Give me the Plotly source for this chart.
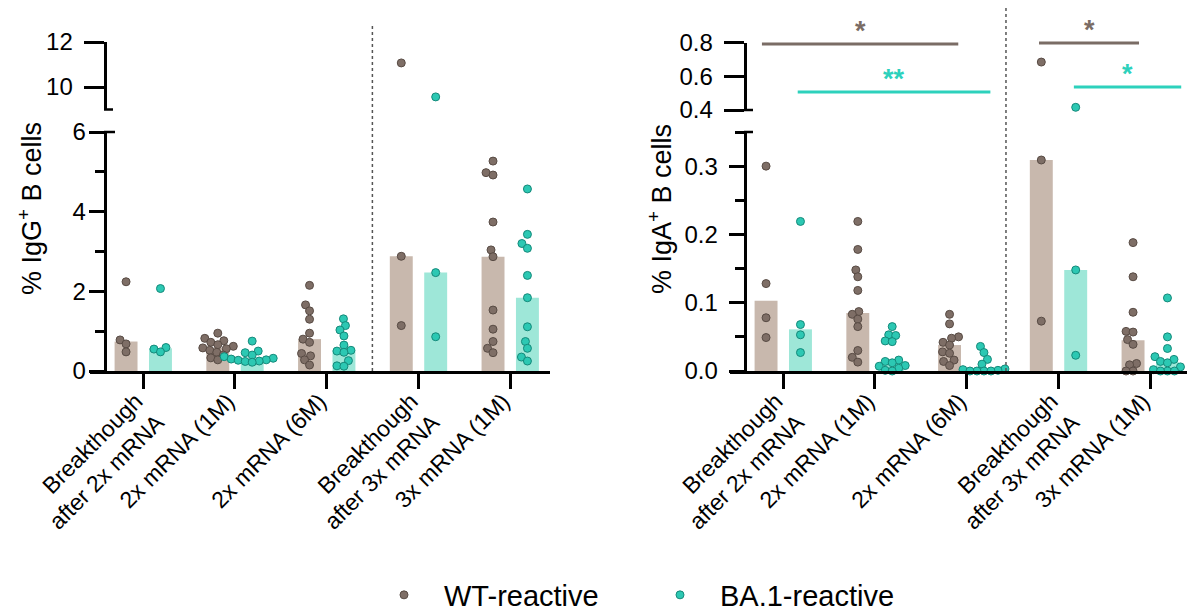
import plotly.graph_objects as go

W, H = 1187, 611
FONT = "Arial, Liberation Sans, sans-serif"

# ---------------- data ----------------
categories = ["Breakthough<br>after 2x mRNA", "2x mRNA (1M)", "2x mRNA (6M)",
              "Breakthough<br>after 3x mRNA", "3x mRNA (1M)"]
series_names = ["WT-reactive", "BA.1-reactive"]

igg_wt = [
    [2.24, 0.78, 0.68, 0.48],
    [0.95, 0.82, 0.76, 0.72, 0.66, 0.62, 0.58, 0.56, 0.52, 0.47, 0.40, 0.33, 0.28],
    [2.15, 1.66, 1.51, 1.30, 0.95, 0.80, 0.72, 0.44, 0.38, 0.28, 0.15],
    [11.07, 2.88, 1.14],
    [5.27, 4.98, 4.92, 3.74, 3.04, 2.87, 1.53, 1.05, 0.74, 0.57, 0.46],
]
igg_ba1 = [
    [2.07, 0.59, 0.55, 0.48],
    [0.75, 0.50, 0.46, 0.40, 0.36, 0.32, 0.30, 0.28, 0.27, 0.25, 0.24, 0.22],
    [1.31, 1.14, 1.03, 0.88, 0.65, 0.52, 0.50, 0.47, 0.26, 0.13, 0.12],
    [9.56, 2.47, 0.86],
    [4.57, 3.43, 3.20, 3.08, 2.40, 1.84, 1.11, 0.74, 0.57, 0.35, 0.25],
]
iga_wt = [
    [0.30, 0.128, 0.078, 0.049],
    [0.219, 0.178, 0.148, 0.138, 0.118, 0.087, 0.083, 0.076, 0.065, 0.030, 0.020, 0.013],
    [0.083, 0.069, 0.050, 0.048, 0.042, 0.038, 0.028, 0.026, 0.016, 0.014, 0.008],
    [0.685, 0.309, 0.073],
    [0.188, 0.138, 0.086, 0.058, 0.057, 0.046, 0.039, 0.011, 0.009, 0.0, 0.0],
]
iga_ba1 = [
    [0.219, 0.068, 0.053, 0.027],
    [0.065, 0.053, 0.052, 0.044, 0.043, 0.016, 0.014, 0.012, 0.008, 0.007, 0.004, 0.001, 0.0],
    [0.036, 0.027, 0.017, 0.010, 0.003, 0.002, 0.001, 0.0, 0.0, 0.0, 0.0],
    [0.416, 0.148, 0.023],
    [0.107, 0.050, 0.033, 0.021, 0.017, 0.014, 0.012, 0.006, 0.002, 0.0, 0.0, 0.0],
]

# bar heights (medians)
igg_wt_bar = [0.74, 0.58, 0.80, 2.88, 2.87]
igg_ba1_bar = [0.57, 0.30, 0.52, 2.47, 1.84]
iga_wt_bar = [0.103, 0.085, 0.038, 0.309, 0.045]
iga_ba1_bar = [0.061, 0.014, 0.003, 0.148, 0.013]

# significance bars on IgA panel
sig_x0 = [-0.23, 0.16, 2.79, 3.17]
sig_x1 = [1.91, 2.26, 3.88, 4.34]
sig_y = [0.792, 0.507, 0.798, 0.536]
sig_text = ["*", "**", "*", "*"]
sig_series = [0, 1, 0, 1]

# ---------------- style ----------------
dot_fill = ["#7e6e66", "#2cc8b3"]
dot_line = ["#584b44", "#15897a"]
bar_fill = ["#c8b8ad", "#9ee7d8"]
sig_col = ["#7a6c65", "#2dd1bc"]
group_off = [-0.185, 0.19]
PX_PER_CAT = 91.75


def swarm(values, px_per_unit, diam=7.0, step=0.5):
    placed = []
    offs = [0.0] * len(values)
    for i in sorted(range(len(values)), key=lambda k: values[k]):
        y = values[i] * px_per_unit
        k = 0
        found = None
        while found is None:
            cands = [0.0] if k == 0 else [-k * step, k * step]
            for xc in cands:
                if all((xc - px) ** 2 + (y - py) ** 2 >= diam ** 2 for px, py in placed):
                    found = xc
                    break
            k += 1
        placed.append((found, y))
        offs[i] = found
    return offs


fig = go.Figure()

panels = [
    dict(x="x", lo="y", hi="y2", data=[igg_wt, igg_ba1], bars=[igg_wt_bar, igg_ba1_bar], scale=39.8),
    dict(x="x2", lo="y3", hi="y4", data=[iga_wt, iga_ba1], bars=[iga_wt_bar, iga_ba1_bar], scale=680.0),
]

for p, pan in enumerate(panels):
    for s in range(2):
        fig.add_trace(go.Bar(
            x=[i + group_off[s] for i in range(len(categories))], y=pan["bars"][s],
            width=0.25, marker=dict(color=bar_fill[s], line=dict(width=0)),
            xaxis=pan["x"], yaxis=pan["lo"], showlegend=False, hoverinfo="skip"))
    for s in range(2):
        xs, ys = [], []
        for i, vals in enumerate(pan["data"][s]):
            offs = swarm(vals, pan["scale"])
            xs += [i + group_off[s] + o / PX_PER_CAT for o in offs]
            ys += vals
        for ax_y in (pan["lo"], pan["hi"]):
            fig.add_trace(go.Scatter(
                x=xs, y=ys, mode="markers", cliponaxis=False,
                marker=dict(size=8, color=dot_fill[s], line=dict(color=dot_line[s], width=1)),
                xaxis=pan["x"], yaxis=ax_y, name=series_names[s],
                showlegend=(p == 0 and ax_y == pan["lo"]), hoverinfo="skip"))

# significance lines
for k in range(len(sig_x0)):
    fig.add_trace(go.Scatter(
        x=[sig_x0[k], sig_x1[k]], y=[sig_y[k], sig_y[k]], mode="lines",
        line=dict(color=sig_col[sig_series[k]], width=3),
        xaxis="x2", yaxis="y5", showlegend=False, hoverinfo="skip"))
    fig.add_annotation(
        x=(sig_x0[k] + sig_x1[k]) / 2, y=sig_y[k], xref="x2", yref="y5",
        text="<b>" + sig_text[k] + "</b>", showarrow=False, yanchor="bottom", yshift=-4,
        font=dict(family=FONT, size=27, color=sig_col[sig_series[k]]))

axis_common = dict(showline=True, linewidth=2.5, linecolor="black", showgrid=False,
                   zeroline=False, ticks="outside", tickwidth=2.5, tickcolor="black",
                   automargin=False)
ytickfont = dict(family=FONT, size=24, color="black")
xtickfont = dict(family=FONT, size=23, color="black")
NBSP = "\u00a0"

ybot = 1 - 371 / H
ytop_lo = 1 - 132 / H

xcommon = dict(tickmode="array", tickvals=list(range(5)), ticktext=categories,
               tickangle=-45, ticklen=15, tickfont=xtickfont,
               ticklabelstandoff=-10, ticklabelshift=-7, **axis_common)

fig.update_layout(
    width=W, height=H, margin=dict(l=0, r=0, t=0, b=0, autoexpand=False),
    paper_bgcolor="white", plot_bgcolor="rgba(0,0,0,0)", barmode="overlay",
    font=dict(family=FONT, color="black"),
    xaxis=dict(domain=[90 / W, 550 / W], range=[-0.578, 4.436], anchor="y", **xcommon),
    yaxis=dict(domain=[ybot, ytop_lo], range=[0, 6], anchor="free", position=105 / W,
               tick0=0, dtick=2, ticklen=15, tickfont=ytickfont, ticksuffix=NBSP,
               ticklabelstandoff=-8,
               minor=dict(dtick=1, ticks="outside", ticklen=9, tickwidth=2.5, tickcolor="black"),
               **axis_common),
    yaxis2=dict(domain=[1 - 109.5 / H, 1 - 42 / H], range=[9, 12], anchor="free", position=105 / W,
                tick0=0, dtick=2, ticklen=20, tickfont=ytickfont, ticksuffix=NBSP, **axis_common),
    xaxis2=dict(domain=[730 / W, 1.0], range=[-0.578, 4.403], anchor="y3", **xcommon),
    yaxis3=dict(domain=[ybot, ytop_lo], range=[0, 0.35], anchor="free", position=745 / W,
                tick0=0, dtick=0.1, tickformat=".1f", ticklen=15, tickfont=ytickfont,
                ticksuffix=NBSP,
                minor=dict(dtick=0.05, ticks="outside", ticklen=9, tickwidth=2.5, tickcolor="black"),
                **axis_common),
    yaxis4=dict(domain=[1 - 110 / H, 1 - 42.7 / H], range=[0.4, 0.8], anchor="free", position=745 / W,
                tick0=0, dtick=0.2, tickformat=".1f", ticklen=20, tickfont=ytickfont,
                ticksuffix=NBSP, **axis_common),
    yaxis5=dict(domain=[1 - 110 / H, 1.0], range=[0.4, 0.4 + 110 / 168.5], anchor="x2",
                visible=False, automargin=False),
    legend=dict(orientation="h", x=364 / W, y=1 - 595 / H, xanchor="left", yanchor="middle",
                font=dict(family=FONT, size=29, color="black"), itemwidth=70, entrywidth=191,
                bgcolor="rgba(0,0,0,0)"),
)

# axis titles
for xpix, txt in [(30, "% IgG<sup>+</sup> B cells"), (660, "% IgA<sup>+</sup> B cells")]:
    fig.add_annotation(x=xpix / W, y=1 - 209 / H, xref="paper", yref="paper", text=txt,
                       textangle=-90, showarrow=False, xanchor="center", yanchor="middle",
                       font=dict(family=FONT, size=27, color="black"))

# group separators (dotted)
for xr, xv, ytop in [("x", 2.5, 25.7), ("x2", 2.43, 8)]:
    fig.add_shape(type="line", xref=xr, yref="paper", x0=xv, x1=xv, y0=ybot, y1=1 - ytop / H,
                  line=dict(color="#555555", width=1.5, dash="dot"))

# axis break caps
for x0, x1, yp in [(104, 115, 132), (104, 113, 109.5), (744, 753, 132), (744, 753, 110)]:
    fig.add_shape(type="line", xref="paper", yref="paper", x0=x0 / W, x1=x1 / W,
                  y0=1 - yp / H, y1=1 - yp / H, line=dict(color="black", width=2.5))

fig.write_html("out.html", config={"displayModeBar": False},
               post_script="document.body.style.margin='0';document.body.style.overflow='hidden';")
